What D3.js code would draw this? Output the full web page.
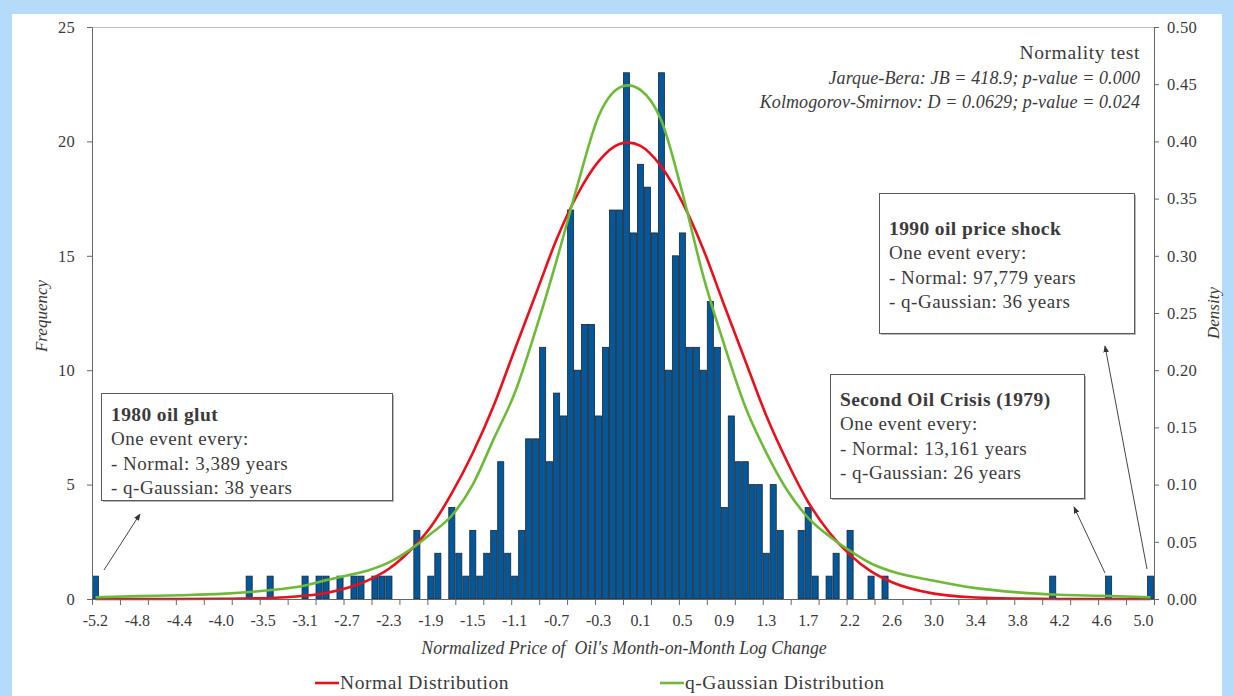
<!DOCTYPE html>
<html><head><meta charset="utf-8">
<script src="https://cdn.jsdelivr.net/npm/d3@7/dist/d3.min.js"></script>
<style>
html,body{margin:0;padding:0;background:#b4dcfa;}
svg{display:block;}
text{font-family:"Liberation Serif","DejaVu Serif",serif;fill:#3a3a3a;}
</style></head>
<body>
<svg id="chart" width="1233" height="696"></svg>
<script>
// ---- data ----
// histogram counts per bin (152 bins, left to right)
const counts = [
 1,0,0,0,0,0,0,0,0,0, 0,0,0,0,0,0,0,0,0,0,
 0,0,1,0,0,1,0,0,0,0, 1,0,1,1,0,1,0,1,1,0,
 1,1,1,0,0,0,3,0,1,2, 0,4,2,1,3,1,2,3,6,2,
 1,3,7,7,11,6,9,8,17,10, 12,12,8,11,17,17,23,16,19,18,
 16,23,10,15,16,11,11,10,13,11, 4,8,6,6,5,5,2,5,3,0,
 0,3,4,1,0,1,2,0,3,0, 0,1,0,1,0,0,0,0,0,0,
 0,0,0,0,0,0,0,0,0,0, 0,0,0,0,0,0,0,1,0,0,
 0,0,0,0,0,1,0,0,0,0, 0,1
];
// category tick labels (every 6th bin)
const tickLabels = ["-5.2","-4.8","-4.4","-4.0","-3.5","-3.1","-2.7","-2.3","-1.9","-1.5","-1.1","-0.7","-0.3","0.1","0.5","0.9","1.3","1.7","2.2","2.6","3.0","3.4","3.8","4.2","4.6","5.0"];
const leftTicks = [0,5,10,15,20,25];
const rightTicks = [0,0.05,0.10,0.15,0.20,0.25,0.30,0.35,0.40,0.45,0.50];
// density curves sampled at bin positions
const curveBins = [0,6,12,18,24,30,33,36,39,42,45,48,51,54,57,60,63,66,69,72,75,76.2,78,81,84,87,90,93,96,99,102,105,108,111,114,120,126,132,138,144,151];
const normalDensity = [0,0,0,0.0002,0.0007,0.0029,0.0053,0.0096,0.0163,0.0264,0.0422,0.0632,0.0925,0.1276,0.1691,0.2179,0.2661,0.3144,0.3538,0.3825,0.3977,0.3989,0.3961,0.3778,0.3467,0.3056,0.2565,0.2083,0.1604,0.1200,0.0848,0.0584,0.0386,0.0241,0.0147,0.0047,0.0013,0.0003,0,0,0];
const qGaussDensity = [0.0015,0.0025,0.0033,0.0045,0.0072,0.0118,0.0165,0.0205,0.025,0.032,0.043,0.057,0.073,0.100,0.140,0.180,0.235,0.296,0.362,0.422,0.447,0.449,0.445,0.418,0.355,0.282,0.222,0.168,0.128,0.095,0.071,0.055,0.042,0.031,0.024,0.016,0.0095,0.0058,0.0037,0.0028,0.0015];

const annotations = [
  {title:"1980 oil glut", lines:["One event every:","- Normal: 3,389 years","- q-Gaussian: 38 years"]},
  {title:"Second Oil Crisis (1979)", lines:["One event every:","- Normal: 13,161 years","- q-Gaussian: 26 years"]},
  {title:"1990 oil price shock", lines:["One event every:","- Normal: 97,779 years","- q-Gaussian: 36 years"]}
];
const testLines = ["Normality test","Jarque-Bera: JB = 418.9; p-value = 0.000","Kolmogorov-Smirnov: D = 0.0629; p-value = 0.024"];
const legendItems = ["Normal Distribution","q-Gaussian Distribution"];

// ---- layout ----
const svg = d3.select("#chart");
const L = 92, R = 1154, T = 27, B = 599;
const nb = counts.length;

svg.append("rect").attr("x",12).attr("y",14).attr("width",1210).attr("height",696-14).attr("fill","#ffffff");

const xBand = d3.scaleBand().domain(d3.range(nb)).range([L,R]).paddingInner(0.13).paddingOuter(0.06);
const xLin = d3.scaleLinear().domain([0,nb]).range([L,R]);
const xC = d3.scaleLinear().domain([-0.5,nb-0.5]).range([L,R]);
const yL = d3.scaleLinear().domain([0,25]).range([B,T]);
const yR = d3.scaleLinear().domain([0,0.5]).range([B,T]);

const axisCol = "#666";

// plot top border
svg.append("line").attr("x1",L).attr("x2",R).attr("y1",T+0.5).attr("y2",T+0.5).attr("stroke","#bdbdbd").attr("stroke-width",1);

// bars
svg.append("g").selectAll("rect").data(counts.map((c,i)=>({c,i})).filter(d=>d.c>0)).join("rect")
  .attr("x",d=>xBand(d.i)).attr("width",xBand.bandwidth())
  .attr("y",d=>yL(d.c)).attr("height",d=>yL(0)-yL(d.c))
  .attr("fill","#02589b").attr("stroke","#1d2530").attr("stroke-width",0.8);

// curves
const line = d3.line().x(d=>xC(d[0])).y(d=>yR(d[1])).curve(d3.curveMonotoneX);
svg.append("path").datum(curveBins.map((b,i)=>[b,normalDensity[i]])).attr("d",line)
  .attr("fill","none").attr("stroke","#e8101c").attr("stroke-width",2.6);
svg.append("path").datum(curveBins.map((b,i)=>[b,qGaussDensity[i]])).attr("d",line)
  .attr("fill","none").attr("stroke","#6dba38").attr("stroke-width",2.6);

// axes
function styleAxis(g){
  g.selectAll(".domain").attr("stroke",axisCol);
  g.selectAll(".tick line").attr("stroke",axisCol);
  g.selectAll("text").style("font-family","'Liberation Serif',serif").style("font-size","16.5px").style("letter-spacing","0.3px").attr("fill","#3a3a3a");
}
const gx = svg.append("g").attr("transform",`translate(0,${B})`)
  .call(d3.axisBottom(xLin).tickValues(d3.range(0,nb+1,4)).tickFormat("").tickSizeOuter(0).tickSize(6));
styleAxis(gx);
svg.append("g").selectAll("text").data(tickLabels).join("text")
  .attr("x",(d,i)=>xBand(i*6)+xBand.bandwidth()/2).attr("y",B+27)
  .attr("text-anchor","middle").style("font-size","16px").text(d=>d);

const gl = svg.append("g").attr("transform",`translate(${L},0)`)
  .call(d3.axisLeft(yL).tickValues(leftTicks).tickSize(5).tickSizeOuter(0).tickPadding(12));
styleAxis(gl);
const gr = svg.append("g").attr("transform",`translate(${R},0)`)
  .call(d3.axisRight(yR).tickValues(rightTicks).tickFormat(d3.format(".2f")).tickSize(5).tickSizeOuter(0).tickPadding(8));
styleAxis(gr);

// axis titles
svg.append("text").attr("transform","translate(47,316) rotate(-90)").attr("text-anchor","middle")
  .style("font-style","italic").style("font-size","17px").text("Frequency");
svg.append("text").attr("transform","translate(1219,313) rotate(-90)").attr("text-anchor","middle")
  .style("font-style","italic").style("font-size","17px").text("Density");
svg.append("text").attr("x",624).attr("y",654).attr("text-anchor","middle")
  .style("font-style","italic").style("font-size","17.8px").attr("xml:space","preserve")
  .text("Normalized Price of  Oil's Month-on-Month Log Change");

// normality test block
testLines.forEach((t,i)=>{
  svg.append("text").attr("x",1140).attr("y",59+i*24.5).attr("text-anchor","end")
    .style("font-size",i===0?"19.5px":"18px").style("letter-spacing",i===0?"0.6px":"0.1px")
    .style("font-style",i===0?"normal":"italic").text(t);
});

// annotation boxes
const boxes = [
  {x:101,y:393,w:291,h:107, ax1:104,ay1:570, ax2:140,ay2:514},
  {x:830,y:374,w:254,h:124, ax1:1105,ay1:573, ax2:1074,ay2:507},
  {x:879,y:193,w:255,h:140, ax1:1147,ay1:569, ax2:1105,ay2:346}
];
const defs = svg.append("defs");
defs.append("marker").attr("id","ah").attr("viewBox","0 0 10 10").attr("refX",9).attr("refY",5)
  .attr("markerWidth",7).attr("markerHeight",7).attr("orient","auto")
  .append("path").attr("d","M0,1 L10,5 L0,9 Z").attr("fill","#333");

boxes.forEach((b,k)=>{
  const a = annotations[k];
  svg.append("rect").attr("x",b.x+2).attr("y",b.y+2).attr("width",b.w).attr("height",b.h).attr("fill","#b8b8b8");
  svg.append("rect").attr("x",b.x+0.5).attr("y",b.y+0.5).attr("width",b.w).attr("height",b.h)
    .attr("fill","#fff").attr("stroke","#5a5a5a").attr("stroke-width",1);
  const tx = b.x+10, ty = b.y + (k===2?42:(k===1?32:28));
  svg.append("text").attr("x",tx).attr("y",ty).style("font-weight","bold").style("font-size","19.5px")
    .style("letter-spacing","0.4px").attr("fill","#222").text(a.title);
  a.lines.forEach((l,j)=>{
    svg.append("text").attr("x",tx).attr("y",ty+24.3*(j+1)).style("font-size","19px")
      .style("letter-spacing","0.5px").text(l);
  });
  svg.append("line").attr("x1",b.ax1).attr("y1",b.ay1).attr("x2",b.ax2).attr("y2",b.ay2)
    .attr("stroke","#444").attr("stroke-width",1).attr("marker-end","url(#ah)");
});

// legend
const legX = [315,660], legCol = ["#e8101c","#6dba38"];
legendItems.forEach((t,i)=>{
  svg.append("line").attr("x1",legX[i]).attr("x2",legX[i]+24).attr("y1",683).attr("y2",683)
    .attr("stroke",legCol[i]).attr("stroke-width",2.6);
  svg.append("text").attr("x",legX[i]+25).attr("y",689).style("font-size","19.5px")
    .style("letter-spacing","0.55px").text(t);
});
</script>
</body></html>
